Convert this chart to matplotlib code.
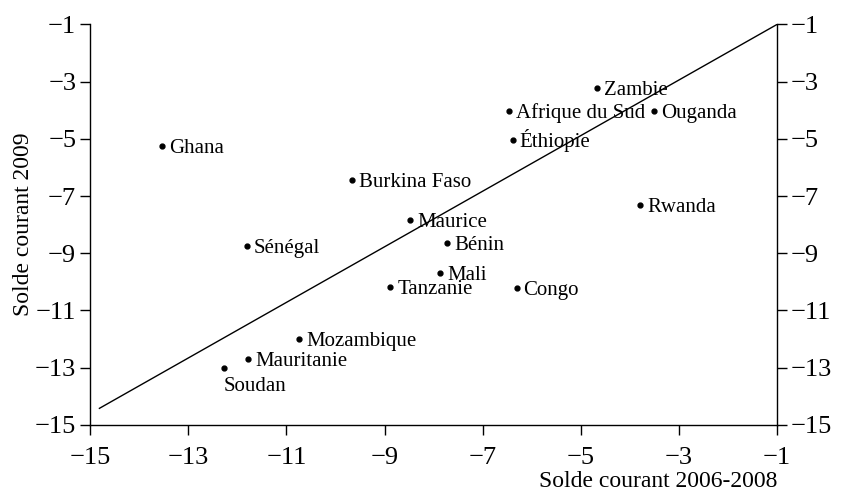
#!/usr/bin/env python3
# Solde courant 2009 vs 2006-2008, scatter with country labels

import matplotlib
matplotlib.use("Agg")
import matplotlib.pyplot as plt

plt.rcParams['font.family'] = ['Liberation Serif', 'DejaVu Serif']

# data
pays = ["Ghana", "Burkina Faso", "Maurice", "Sénégal", "Zambie", "Afrique du Sud",
        "Ouganda", "Éthiopie", "Rwanda", "Bénin", "Mali", "Tanzanie", "Congo",
        "Mozambique", "Mauritanie", "Soudan"]
solde_0608 = [-13.54, -9.67, -8.48, -11.80, -4.67, -6.47, -3.50, -6.39, -3.79,
              -7.72, -7.87, -8.88, -6.31, -10.74, -11.78, -12.28]
solde_2009 = [-5.25, -6.45, -7.84, -8.74, -3.22, -4.02, -4.02, -5.04, -7.32,
              -8.63, -9.68, -10.17, -10.22, -12.01, -12.71, -13.02]

# the straight line drawn across the plot
ligne_x = [-14.81, -1.0]
ligne_y = [-14.42, -1.0]

ticks = [-15, -13, -11, -9, -7, -5, -3, -1]

fig = plt.figure(figsize=(8.42, 4.97), dpi=100)
ax = fig.add_axes([0.107, 0.145, 0.816, 0.806])

ax.plot(ligne_x, ligne_y, color='k', lw=1.0)
ax.plot(solde_0608, solde_2009, 'k.', markersize=7, linestyle='none')

for nom, x, y in zip(pays, solde_0608, solde_2009):
    if nom == "Soudan":
        off = (0, -16)
    else:
        off = (5, -5)
    ax.annotate(nom, (x, y), xytext=off, textcoords='offset points',
                ha='left', va='baseline', fontsize=15)

ax.set_xlim(-15, -1)
ax.set_ylim(-15, -1)
ax.set_xticks(ticks)
ax.set_yticks(ticks)

ax.spines['top'].set_visible(False)
for s in ['left', 'right', 'bottom']:
    ax.spines[s].set_linewidth(1.0)

ax.tick_params(axis='both', direction='out', length=7, width=1.0,
               labelsize=19, pad=3)
ax.tick_params(axis='x', pad=9)
ax.tick_params(axis='y', left=True, right=True, labelleft=True, labelright=True)

ax.set_xlabel("Solde courant 2006-2008", fontsize=17, loc='right', labelpad=1)
ax.set_ylabel("Solde courant 2009", fontsize=17, labelpad=1)

fig.savefig("out.png", dpi=100)
